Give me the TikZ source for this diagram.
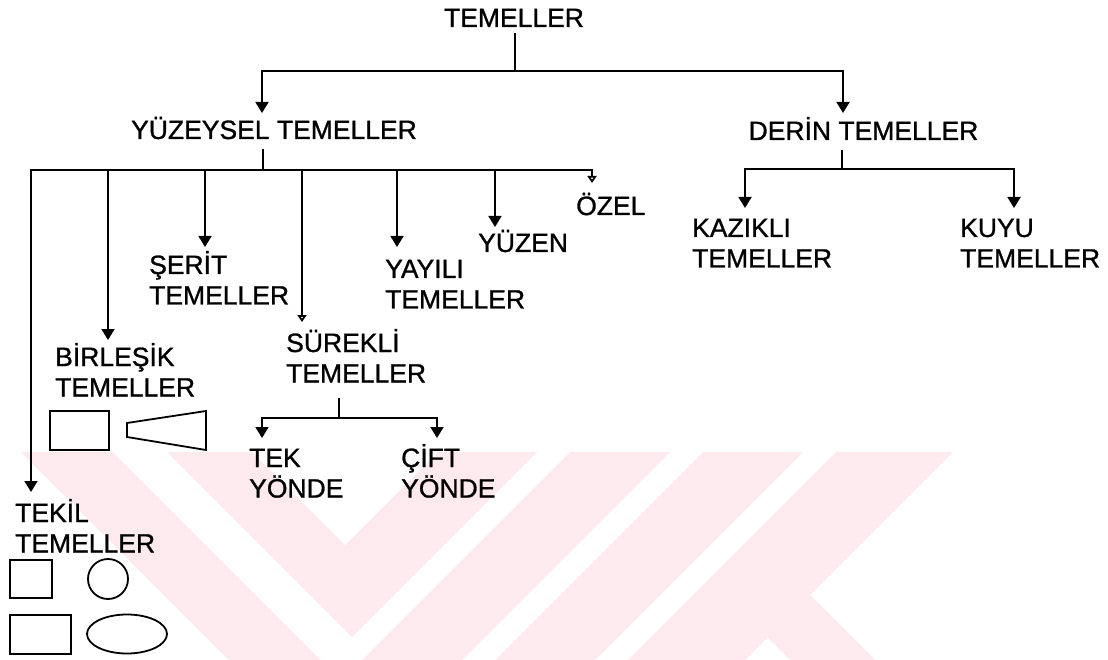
\documentclass[tikz,border=0pt]{standalone}
\usepackage{fontspec}
\newfontfamily\lblfont{Liberation Sans}[FakeBold=1]
\usetikzlibrary{arrows.meta}
\newcommand{\twol}[2]{\vtop{\hbox{#1}\hbox{#2}}}
\definecolor{wm}{RGB}{253,234,238}
\tikzset{
  lbl/.style={inner sep=0pt, anchor=base west, font=\lblfont\fontsize{26.5pt}{30.5pt}\selectfont},
  ln/.style={line width=1.8pt},
  arr/.style={ln, -{Triangle[width=13pt,length=11pt]}},
  sarr/.style={ln, -{Triangle[open,width=9pt,length=7pt]}},
  shp/.style={line width=1.8pt}
}
\begin{document}
\begin{tikzpicture}[x=1pt,y=-1pt]
\useasboundingbox (0,0) rectangle (1108,660);
% watermark
\begin{scope}
\clip (0,452) rectangle (1108,660);
\fill[wm] (21,452) -- (670,452) -- (345.5,776.5) -- cycle;
\fill[white] (113,452) -- (570,452) -- (341.5,680.5) -- cycle;
\fill[wm] (167,452) -- (537,452) -- (352,637) -- cycle;
\fill[white] (252,452) -- (438,452) -- (345,545) -- cycle;
\fill[wm] (703,452) -- (803,452) -- (595,660) -- (495,660) -- cycle;
\fill[wm] (836,452) -- (953,452) -- (745,660) -- (628,660) -- cycle;
\fill[wm] (810,595) -- (767.5,637.5) -- (790,660) -- (875,660) -- cycle;
\end{scope}

% labels
\node[lbl, anchor=base] (tem) at (514,27) {TEMELLER};
\node[lbl, anchor=base] (yuz) at (274,139) {YÜZEYSEL TEMELLER};
\node[lbl, anchor=base] (der) at (863.5,140) {DERİN TEMELLER};
\node[lbl] (kaz) at (692,237) {\twol{KAZIKLI}{TEMELLER}};
\node[lbl] (kuy) at (960,237) {\twol{KUYU}{TEMELLER}};
\node[lbl] (ser) at (149,274) {\twol{ŞERİT}{TEMELLER}};
\node[lbl] (yay) at (385,278) {\twol{YAYILI}{TEMELLER}};
\node[lbl] (yzn) at (478,252) {YÜZEN};
\node[lbl] (oze) at (576,215) {ÖZEL};
\node[lbl] (sur) at (286,352) {\twol{SÜREKLİ}{TEMELLER}};
\node[lbl] (bir) at (55,366) {\twol{BİRLEŞİK}{TEMELLER}};
\node[lbl] (tkl) at (15,522) {\twol{TEKİL}{TEMELLER}};
\node[lbl] (tek) at (249,467) {\twol{TEK}{YÖNDE}};
\node[lbl] (cft) at (401,467) {\twol{ÇİFT}{YÖNDE}};

% junctions and arrow tips
\coordinate (j0) at (515,71);
\coordinate (tY) at (262,113);
\coordinate (tD) at (843,113);
\coordinate (j1) at (263,170);
\coordinate (tTk) at (31,492);
\coordinate (tBr) at (108,340);
\coordinate (tSr) at (205,247);
\coordinate (tSu) at (302,322);
\coordinate (tYa) at (397,247);
\coordinate (tYz) at (495,227);
\coordinate (tOz) at (592,183);
\coordinate (j2) at (842,169);
\coordinate (tKz) at (745,208);
\coordinate (tKu) at (1014,208);
\coordinate (j3) at (339,418);
\coordinate (tTe) at (262,438);
\coordinate (tCi) at (437,438);

% connectors
\draw[ln] ([yshift=-6pt]tem.south -| j0) -- (j0);
\draw[arr] (j0) -| (tY);
\draw[arr] (j0) -| (tD);

\draw[ln] ([yshift=-10pt]yuz.south -| j1) -- (j1);
\draw[arr] (j1) -| (tTk);
\draw[arr] (j1) -| (tBr);
\draw[arr] (j1) -| (tSr);
\draw[sarr] (j1) -| (tSu);
\draw[arr] (j1) -| (tYa);
\draw[arr] (j1) -| (tYz);
\draw[sarr] (j1) -| (tOz);

\draw[ln] ([yshift=-10pt]der.south -| j2) -- (j2);
\draw[arr] (j2) -| (tKz);
\draw[arr] (j2) -| (tKu);

\draw[ln] (j3 |- 0,398) -- (j3);
\draw[arr] (j3) -| (tTe);
\draw[arr] (j3) -| (tCi);

% shapes
\draw[shp] (50,411) rectangle (109,450);
\draw[shp] (127,423) -- (206,411) -- (206,450) -- (127,437) -- cycle;
\draw[shp] (10,560) rectangle (52,598);
\draw[shp] (108,579) circle[radius=20pt];
\draw[shp] (10,615) rectangle (71,654);
\draw[shp] (127,634) ellipse[x radius=40pt, y radius=19.5pt];
\end{tikzpicture}
\end{document}
